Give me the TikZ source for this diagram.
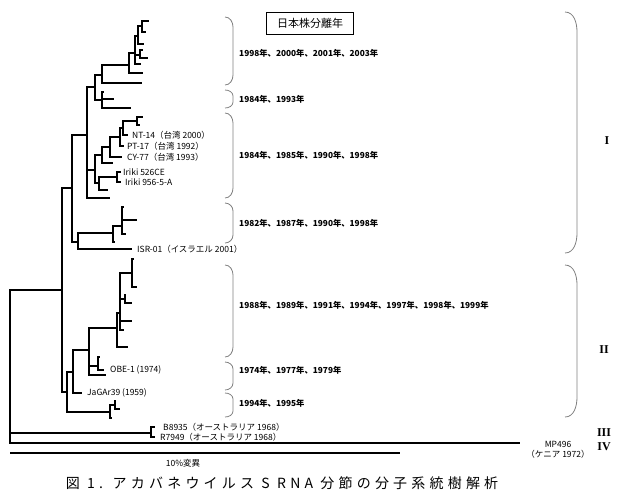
\documentclass[tikz,border=0pt]{standalone}
\usepackage{fontspec}
\setmainfont{Noto Sans CJK JP}
\newfontfamily\romfont{Liberation Serif}
\newfontfamily\capfont[LetterSpace=30]{Noto Sans CJK JP}
\usetikzlibrary{positioning}

\tikzset{
  branch/.style={line width=1.5pt},
  leaflab/.style={font=\fontsize{8.5}{9.5}\selectfont, inner sep=1pt},
  yearlab/.style={font=\fontsize{8.3}{9}\selectfont\bfseries, anchor=west, inner sep=0pt},
  yearbrace/.style={draw=gray, line width=0.8pt},
  clade/.style={font=\romfont\fontsize{12}{12}\selectfont\bfseries, inner sep=0pt}
}

\begin{document}
\begin{tikzpicture}[x=1pt, y=-1pt]
\useasboundingbox (0,0) rectangle (620,499);

% internal nodes of the tree
\coordinate (root) at (10,400);
\coordinate (n18) at (62,290);
\coordinate (n14) at (72,188);
\coordinate (n9) at (87,135);
\coordinate (n10) at (95,87);
\coordinate (n11) at (102,75);
\coordinate (n13) at (129,65);
\coordinate (a5) at (135,53);
\coordinate (a3) at (138,36);
\coordinate (a1) at (142,26);
\coordinate (a4) at (140,55);
\coordinate (n12) at (102,100);
\coordinate (n8) at (95,170);
\coordinate (n5) at (102,155);
\coordinate (n4) at (110,147);
\coordinate (n3) at (120,137);
\coordinate (n2) at (123,128);
\coordinate (n1) at (137,121);
\coordinate (n7) at (99,183);
\coordinate (n6) at (117,177);
\coordinate (n15) at (78,242);
\coordinate (n16) at (113,233);
\coordinate (n17) at (122,226);
\coordinate (n19) at (67,392);
\coordinate (n20) at (73,372);
\coordinate (n21) at (89,350);
\coordinate (n23) at (117,328);
\coordinate (b2) at (120,313);
\coordinate (b1) at (132,273);
\coordinate (b3) at (125,299);
\coordinate (n22) at (98,366);
\coordinate (n24) at (110,412);
\coordinate (c1) at (115,405);
\coordinate (bB) at (151,433);

% leaves
\coordinate (la1) at (149,21);
\coordinate (la2) at (146,32);
\coordinate (la3) at (144,44);
\coordinate (la4) at (143,50);
\coordinate (la5) at (148,58);
\coordinate (la6) at (141,64);
\coordinate (la7) at (143,73);
\coordinate (la8) at (142,83);
\coordinate (la9) at (104,92);
\coordinate (la10) at (114,99);
\coordinate (la11) at (131,108);
\coordinate (lt1) at (143,117);
\coordinate (lt2) at (140,125);
\coordinate (lNT) at (128,135);
\coordinate (lPT) at (124,146);
\coordinate (lCY) at (122,157);
\coordinate (lt3) at (113,163);
\coordinate (lIa) at (121,172);
\coordinate (lIb) at (121,182);
\coordinate (lt4) at (108,190);
\coordinate (lt5) at (110,198);
\coordinate (ls1) at (124,207);
\coordinate (ls2) at (137,220);
\coordinate (ls3) at (126,234);
\coordinate (ls4) at (115,242);
\coordinate (lISR) at (132,249);
\coordinate (lb1) at (134,259);
\coordinate (lb2) at (137,287);
\coordinate (lb3) at (126,295);
\coordinate (lb4) at (132,303);
\coordinate (lb5) at (132,321);
\coordinate (lb6) at (124,330);
\coordinate (lb7) at (128,347);
\coordinate (lb8) at (100,357);
\coordinate (lOBE) at (104,370);
\coordinate (lb9) at (106,375);
\coordinate (lJa) at (82,393);
\coordinate (lc1) at (116,401);
\coordinate (lc2) at (120,409);
\coordinate (lc3) at (112,418);
\coordinate (lB89) at (155,427);
\coordinate (lR79) at (155,437);
\coordinate (lMP) at (520,443);

% branches
\draw[branch] (root) |- (n18) (root) |- (lMP);
\draw[line width=2.5pt] (root) |- (bB);
\draw[branch] (bB) |- (lB89) (bB) |- (lR79);
\draw[branch] (n18) |- (n14) (n18) |- (n19);
\draw[branch] (n14) |- (n9) (n14) |- (n15);
\draw[branch] (n9) |- (n10) (n9) |- (n8) (n9) |- (lt5);
\draw[branch] (n10) |- (n11) (n10) |- (n12);
\draw[branch] (n11) |- (n13) (n11) |- (la8);
\draw[branch] (n13) |- (a5) (n13) |- (la7);
\draw[branch] (a5) |- (a3) (a5) |- (a4) (a5) |- (la6);
\draw[branch] (a3) |- (a1) (a3) |- (la3);
\draw[branch] (a1) |- (la1) (a1) |- (la2);
\draw[branch] (a4) |- (la4) (a4) |- (la5);
\draw[branch] (n12) |- (la9) (n12) |- (la10) (n12) |- (la11);
\draw[branch] (n8) |- (n5) (n8) |- (n7);
\draw[branch] (n5) |- (n4) (n5) |- (lt3);
\draw[branch] (n4) |- (n3) (n4) |- (lCY);
\draw[branch] (n3) |- (n2) (n3) |- (lPT);
\draw[branch] (n2) |- (n1) (n2) |- (lNT);
\draw[branch] (n1) |- (lt1) (n1) |- (lt2);
\draw[branch] (n7) |- (n6) (n7) |- (lt4);
\draw[branch] (n6) |- (lIa) (n6) |- (lIb);
\draw[branch] (n15) |- (n16) (n15) |- (lISR);
\draw[branch] (n16) |- (n17) (n16) |- (ls4);
\draw[branch] (n17) |- (ls1) (n17) |- (ls2) (n17) |- (ls3);
\draw[branch] (n19) |- (n20) (n19) |- (n24);
\draw[branch] (n20) |- (n21) (n20) |- (lJa);
\draw[branch] (n21) |- (n23) (n21) |- (n22) (n21) |- (lb9);
\draw[branch] (n23) |- (b2) (n23) |- (lb7);
\draw[branch] (b2) |- (b1) (b2) |- (b3) (b2) |- (lb5) (b2) |- (lb6);
\draw[branch] (b1) |- (lb1) (b1) |- (lb2);
\draw[branch] (b3) |- (lb3) (b3) |- (lb4);
\draw[branch] (n22) |- (lb8) (n22) |- (lOBE);
\draw[branch] (n24) |- (c1) (n24) |- (lc3);
\draw[branch] (c1) |- (lc1) (c1) |- (lc2);

% strain names
\node[leaflab, right=3pt of lNT] (tNT) {NT-14（台湾 2000）};
\node[leaflab, right=2pt of lPT] (tPT) {PT-17（台湾 1992）};
\node[leaflab, right=4pt of lCY] (tCY) {CY-77（台湾 1993）};
\node[leaflab, right=1pt of lIa] (tIa) {Iriki 526CE};
\node[leaflab, right=3pt of lIb] (tIb) {Iriki 956-5-A};
\node[leaflab, right=4pt of lISR] (tISR) {ISR-01（イスラエル 2001）};
\node[leaflab, right=5pt of lOBE] (tOBE) {OBE-1 (1974)};
\node[leaflab, right=4pt of lJa] (tJa) {JaGAr39 (1959)};
\node[leaflab, right=7pt of lB89] (tB89) {B8935（オーストラリア 1968）};
\node[leaflab, right=4pt of lR79] (tR79) {R7949（オーストラリア 1968）};
\node[leaflab, align=center] (tMP) at (558,450) {MP496\\（ケニア 1972）};

% scale bar
\coordinate (sb1) at (10,453);
\coordinate (sb2) at (400,453);
\draw[branch] (sb1) -- (sb2);
\node[leaflab] (tsb) at (183,463) {10\%変異};

% isolation years
\node[draw, line width=0.8pt, minimum width=87pt, minimum height=22pt,
      font=\fontsize{11}{11}\selectfont] (title) at (310,23) {日本株分離年};
\draw[yearbrace] (225,17) to[out=0,in=90] (233,27) -- (233,75) to[out=-90,in=0] (225,85);
\draw[yearbrace] (225,90) to[out=0,in=90] (233,96) -- (233,102) to[out=-90,in=0] (225,108);
\draw[yearbrace] (225,113) to[out=0,in=90] (233,123) -- (233,188) to[out=-90,in=0] (225,198);
\draw[yearbrace] (225,203) to[out=0,in=90] (233,211) -- (233,235) to[out=-90,in=0] (225,243);
\draw[yearbrace] (225,265) to[out=0,in=90] (233,275) -- (233,347) to[out=-90,in=0] (225,357);
\draw[yearbrace] (225,362) to[out=0,in=90] (233,369) -- (233,383) to[out=-90,in=0] (225,390);
\draw[yearbrace] (225,393) to[out=0,in=90] (233,399) -- (233,411) to[out=-90,in=0] (225,417);
\node[yearlab] (y1) at (239,53) {1998年、2000年、2001年、2003年};
\node[yearlab] (y2) at (239,99) {1984年、1993年};
\node[yearlab] (y3) at (239,155) {1984年、1985年、1990年、1998年};
\node[yearlab] (y4) at (239,223) {1982年、1987年、1990年、1998年};
\node[yearlab] (y5) at (239,305) {1988年、1989年、1991年、1994年、1997年、1998年、1999年};
\node[yearlab] (y6) at (239,370) {1974年、1977年、1979年};
\node[yearlab] (y7) at (239,403) {1994年、1995年};

% groups
\draw[yearbrace] (565,12) to[out=0,in=90] (577,32) -- (577,233) to[out=-90,in=0] (565,253);
\draw[yearbrace] (565,265) to[out=0,in=90] (577,285) -- (577,397) to[out=-90,in=0] (565,417);
\node[clade] (gI) at (607,141) {I};
\node[clade] (gII) at (604,350) {II};
\node[clade] (gIII) at (604,433) {III};
\node[clade] (gIV) at (604,447) {IV};

% caption
\node[font=\capfont\fontsize{14}{14}\selectfont, inner sep=0pt] (cap) at (282,483)
  {図 1. アカバネウイルス S RNA 分節の分子系統樹解析};
\end{tikzpicture}
\end{document}
